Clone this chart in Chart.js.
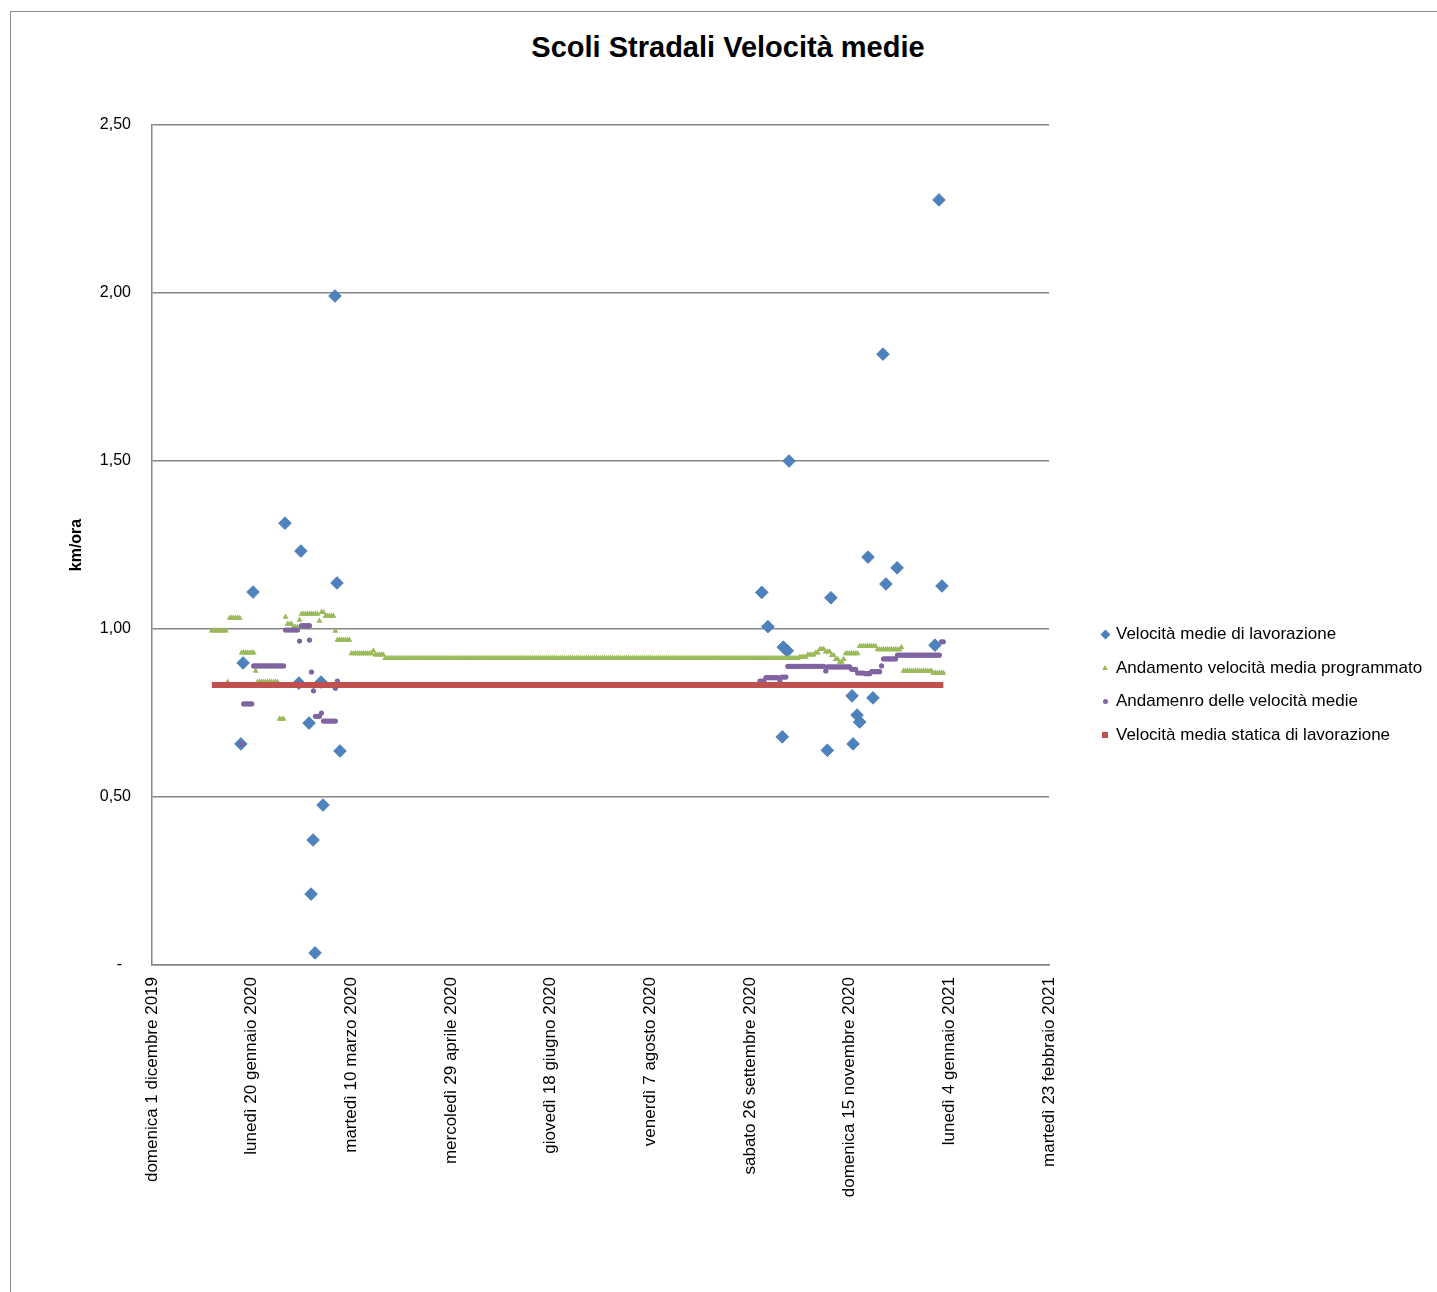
<!DOCTYPE html>
<html lang="it">
<head>
<meta charset="UTF-8">
<title>Scoli Stradali Velocità medie</title>
<script src="https://cdn.jsdelivr.net/npm/chart.js"></script>
<style>
    body {
        margin: 0;
        width: 1437px;
        height: 1292px;
        overflow: hidden;
        background: #fff;
        font-family: "Liberation Sans", Arial, sans-serif;
        color: #000;
    }
    #frame {
        position: absolute;
        left: 10px;
        top: 11px;
        width: 1500px;
        height: 1400px;
        border: 1.5px solid #8c8c8c;
    }
    #title {
        position: absolute;
        left: 0;
        width: 1456px;
        top: 31px;
        line-height: 32px;
        text-align: center;
        font-weight: bold;
        font-size: 29px;
    }
    #chartBox {
        position: absolute;
        left: 10px;
        top: 11px;
        width: 1427px;
        height: 1279px;
    }
    .item {
        position: absolute;
        left: 1116px;
        height: 20px;
        line-height: 20px;
        font-size: 17px;
        white-space: nowrap;
    }
    .mark {
        position: absolute;
        left: -11px;
        top: 10px;
    }
    .diamond { width: 7px; height: 7px; margin: -3.5px 0 0 -3.5px; background: #4F81BD; transform: rotate(45deg); }
    .triangle { width: 0; height: 0; margin: -3px 0 0 -3px; border-left: 3px solid transparent; border-right: 3px solid transparent; border-bottom: 5px solid #9BBB59; }
    .circle { width: 5px; height: 5px; margin: -2.5px 0 0 -2.5px; border-radius: 50%; background: #8064A2; }
    .square { width: 6px; height: 6px; margin: -3px 0 0 -3px; background: #C0504D; }
</style>
</head>
<body>

<div id="frame"></div>
<div id="title">Scoli Stradali Velocità medie</div>
<div id="chartBox"><canvas id="speedChart"></canvas></div>
<div id="legend"></div>

<script>
    // x = days after domenica 1 dicembre 2019
    const tickLabels = [
        'domenica 1 dicembre 2019', 'lunedì 20 gennaio 2020', 'martedì 10 marzo 2020',
        'mercoledì 29 aprile 2020', 'giovedì 18 giugno 2020', 'venerdì 7 agosto 2020',
        'sabato 26 settembre 2020', 'domenica 15 novembre 2020', 'lunedì 4 gennaio 2021',
        'martedì 23 febbraio 2021'
    ];

    const seriesNames = [
        'Velocità medie di lavorazione',
        'Andamento velocità media programmato',
        'Andamenro delle velocità medie',
        'Velocità media statica di lavorazione'
    ];

    // single measurements (blue diamonds)
    const workDays = [44.6, 45.7, 50.7, 66.7, 74.7, 73.7, 78.8, 79.8, 80.8, 81.8, 84.8, 85.8, 91.8, 92.8, 94.3,
                      305.9, 309.0, 316.2, 316.7, 318.7, 319.6, 338.8, 340.6, 351.2, 351.7, 353.7, 355.0,
                      359.2, 361.7, 366.7, 368.2, 373.8, 392.8, 394.8, 396.3];
    const workSpeed = [0.658, 0.899, 1.110, 1.315, 1.232, 0.839, 0.720, 0.211, 0.372, 0.036, 0.842, 0.476, 1.991, 1.137, 0.637,
                       1.109, 1.007, 0.679, 0.946, 0.935, 1.500, 0.639, 1.093, 0.801, 0.658, 0.744, 0.723,
                       1.214, 0.795, 1.818, 1.134, 1.182, 0.952, 2.277, 1.128];

    // programmed trend, daily values as [from day, to day, value]
    const programRuns = [
        [30, 37, 0.995], [38, 38, 0.842], [39, 44, 1.033], [45, 51, 0.929], [52, 52, 0.875],
        [53, 63, 0.842], [64, 66, 0.732], [67, 67, 1.036], [68, 70, 1.015], [71, 73, 1.006],
        [74, 74, 1.027], [75, 83, 1.045], [84, 84, 1.024], [85, 86, 1.050], [87, 91, 1.039],
        [92, 92, 0.994], [93, 99, 0.967], [100, 110, 0.927], [111, 111, 0.935], [112, 116, 0.923],
        [117, 324, 0.913], [325, 328, 0.917], [329, 332, 0.923], [333, 334, 0.929], [335, 337, 0.940],
        [338, 340, 0.932], [341, 342, 0.922], [343, 344, 0.910], [345, 346, 0.902], [347, 347, 0.910],
        [348, 354, 0.927], [355, 363, 0.949], [364, 375, 0.939], [376, 376, 0.946], [377, 391, 0.875],
        [392, 397, 0.869]
    ];

    // running average, daily values as [from day, to day, value]
    const averageRuns = [
        [45, 45, 0.658], [46, 50, 0.777], [51, 66, 0.890], [67, 73, 0.997], [74, 74, 0.964],
        [75, 79, 1.010], [79, 79, 0.967], [80, 80, 0.872], [81, 81, 0.816], [82, 84, 0.740],
        [85, 85, 0.750], [86, 92, 0.726], [92, 92, 0.824], [93, 93, 0.845],
        [305, 307, 0.845], [308, 314, 0.855], [315, 315, 0.845], [316, 318, 0.857], [319, 337, 0.889],
        [338, 338, 0.875], [339, 350, 0.887], [351, 353, 0.880], [354, 357, 0.869], [358, 360, 0.867],
        [361, 365, 0.873], [366, 366, 0.890], [367, 373, 0.911], [374, 395, 0.922], [396, 397, 0.962]
    ];

    // static speed
    const staticRun = [30, 397, 0.833];

    function runsToPoints(runs) {
        const pts = [];
        runs.forEach(([from, to, v]) => {
            for (let d = from; d <= to; d++) pts.push({ x: d, y: v });
        });
        return pts;
    }

    const gridGray = '#868686';
    const fontFamily = '"Liberation Sans", Arial, sans-serif';

    const ctx = document.getElementById('speedChart').getContext('2d');
    const chart = new Chart(ctx, {
        type: 'scatter',
        data: {
            datasets: [
                {
                    label: seriesNames[0],
                    data: workDays.map((d, i) => ({ x: d, y: workSpeed[i] })),
                    pointStyle: 'rectRot',
                    pointRadius: 6.3,
                    backgroundColor: '#4F81BD',
                    borderColor: '#4A7EBB',
                    borderWidth: 1,
                    order: 4
                },
                {
                    label: seriesNames[1],
                    data: runsToPoints(programRuns),
                    pointStyle: 'triangle',
                    pointRadius: 3.5,
                    backgroundColor: '#9BBB59',
                    borderWidth: 0,
                    order: 3
                },
                {
                    label: seriesNames[2],
                    data: runsToPoints(averageRuns),
                    pointStyle: 'circle',
                    pointRadius: 2.6,
                    backgroundColor: '#8064A2',
                    borderWidth: 0,
                    order: 2
                },
                {
                    label: seriesNames[3],
                    data: [{ x: staticRun[0], y: staticRun[2] }, { x: staticRun[1], y: staticRun[2] }],
                    showLine: true,
                    pointRadius: 0,
                    borderColor: '#C0504D',
                    backgroundColor: '#C0504D',
                    borderWidth: 6,
                    order: 1
                }
            ]
        },
        options: {
            responsive: true,
            maintainAspectRatio: false,
            animation: false,
            events: [],
            layout: { padding: { left: 57, top: 114, right: 388, bottom: 85 } },
            plugins: {
                legend: { display: false },
                tooltip: { enabled: false }
            },
            scales: {
                x: {
                    type: 'linear',
                    min: 0,
                    max: 450,
                    grid: { display: false, drawTicks: false },
                    border: { display: true, color: gridGray, width: 1.5 },
                    ticks: {
                        stepSize: 50,
                        autoSkip: false,
                        minRotation: 90,
                        maxRotation: 90,
                        padding: 12,
                        color: '#000',
                        font: { family: fontFamily, size: 17 },
                        callback: v => tickLabels[Math.round(v / 50)]
                    },
                    afterFit: scale => { scale.height = 240; }
                },
                y: {
                    min: 0,
                    max: 2.5,
                    grid: { color: gridGray, lineWidth: 1.5, drawTicks: false },
                    border: { display: true, color: gridGray, width: 1.5 },
                    ticks: {
                        stepSize: 0.5,
                        padding: 21,
                        color: '#000',
                        font: { family: fontFamily, size: 16 },
                        callback: v => v === 0 ? '-  ' : v.toFixed(2).replace('.', ',')
                    },
                    title: {
                        display: true,
                        text: 'km/ora',
                        color: '#000',
                        padding: { top: 0, bottom: 0 },
                        font: { family: fontFamily, size: 16, weight: 'bold' }
                    },
                    afterFit: scale => { scale.width = 85; }
                }
            }
        }
    });

    // legend drawn beside the chart
    const markers = ['diamond', 'triangle', 'circle', 'square'];
    const legend = document.getElementById('legend');
    chart.data.datasets.forEach((ds, i) => {
        const item = document.createElement('div');
        item.className = 'item';
        item.style.top = (624 + i * 33.7) + 'px';
        item.innerHTML = '<span class="mark ' + markers[i] + '"></span>' + ds.label;
        legend.appendChild(item);
    });
</script>

</body>
</html>
